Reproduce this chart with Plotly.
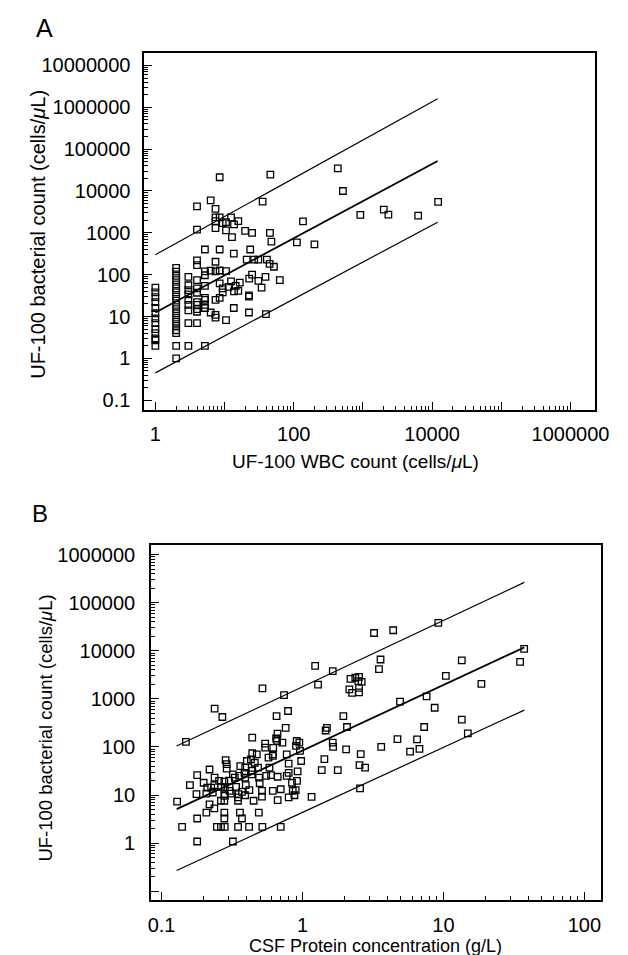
import plotly.graph_objects as go

# Panel A: UF-100 WBC count vs UF-100 bacterial count
wbc_a = [1] * 13 + [2] * 19 + [3] * 9 + [4] * 12 + [5.2] * 9 + [6.3] * 3 + [7.4] * 9 + [8.5] * 6 + [9.4] * 3 + [10.5] * 4 + \
    [11.4, 12.4, 12.4, 12.8, 13.7, 13.7, 13.6, 13.6, 14.5, 15.8, 15.8, 16.6, 19.8, 20.9, 22.5, 22.5, 22.5, 22.7, 23.5,
     25, 25, 26.8, 30.8, 30.8, 34.3, 35.5, 39, 39.6, 40.9, 44.8, 45.3, 45.9, 47.5, 51.7, 62.9,
     111, 136, 199, 433, 513, 916, 2000, 2330, 6280, 12200]
bact_a = [49, 38, 29, 22, 16, 12, 9, 7, 5, 4, 3, 2.7, 2] + \
    [146, 118, 94, 74, 59, 47, 38, 30, 24, 19, 15, 12, 9.4, 7.5, 6, 4.7, 4, 2, 1] + \
    [89, 56, 43, 34, 25, 19, 14, 7, 2] + \
    [4300, 1200, 220, 170, 74, 47, 37, 22, 19, 15, 13, 7] + \
    [400, 120, 97, 54, 28, 25, 19, 16, 2] + \
    [6000, 125, 12.5] + \
    [3730, 2350, 1900, 1290, 204, 120, 25, 11, 9.4] + \
    [21300, 2350, 400, 126, 62, 28] + \
    [1700, 47, 38] + \
    [1800, 1150, 122, 8.2] + \
    [51, 2350, 69, 790, 1600, 40, 320, 16, 54, 1900, 41, 65, 1120, 230, 32, 30, 12.5, 81, 400,
     1000, 100, 230, 230, 71, 49, 5600, 89, 11.4, 230, 182, 1000, 24500, 620, 155, 74,
     590, 1870, 530, 34800, 10000, 2690, 3600, 2740, 2580, 5500]

# regression line + limits, panel A (end points)
line_a_x = [1, 12000]
line_a_mid = [12.5, 52000]
line_a_up = [300, 1600000]
line_a_lo = [0.45, 1800]

# Panel B: CSF protein vs UF-100 bacterial count
prot_b = [3.22, 4.4, 9.2, 3.58, 3.49, 1.23, 1.64, 1.29, 0.52, 0.74,
          2.19, 2.37, 2.52, 2.49, 2.63, 2.15, 2.25, 2.52, 2.52,
          0.238, 0.27, 4.92, 7.6, 8.67, 1.95, 0.655, 0.79, 0.76, 1.49, 1.46, 2.07, 7.3, 0.44,
          0.665, 0.65, 0.72, 0.66, 0.544, 0.544, 0.62, 0.91, 0.95, 0.96, 0.9, 1.64, 1.65,
          2.04, 3.62, 4.72, 6.5, 5.8, 6.76, 2.59, 2.54, 2.78, 1.43, 1.37, 1.78, 2.56, 1.16, 0.149,
          13.5, 10.4, 18.6, 37.4, 35, 13.5, 14.9,
          0.44, 0.474, 0.616, 0.773, 0.285, 0.29, 0.403, 0.431, 0.459, 0.574, 0.616, 0.798, 0.979,
          0.219, 0.29, 0.362, 0.392, 0.44, 0.484, 0.583, 0.388, 0.436, 0.798, 0.924,
          0.179, 0.238, 0.256, 0.321, 0.331, 0.356, 0.392, 0.492, 0.553, 0.598, 0.667, 0.773, 0.843, 0.914,
          0.497, 0.199, 0.211, 0.225, 0.279, 0.301,
          0.159, 0.237, 0.264, 0.281, 0.304, 0.338, 0.396, 0.42, 0.31, 0.231, 0.177, 0.208, 0.279, 0.352,
          0.372, 0.516, 0.616, 0.701, 0.853, 0.895,
          0.392, 0.516, 0.349, 0.281, 0.264, 0.279, 0.349, 0.45, 0.667, 0.798, 0.877, 0.129,
          0.219, 0.237, 0.208, 0.279, 0.36, 0.49, 0.179, 0.279, 0.372,
          0.14, 0.247, 0.264, 0.281, 0.349, 0.418, 0.519, 0.701, 0.179, 0.321]
bact_b = [23500, 26800, 38000, 6600, 4150, 4880, 3780, 1990, 1650, 1200,
          2620, 2750, 2880, 2340, 2250, 1570, 1340, 1700, 1360,
          630, 420, 880, 1130, 655, 440, 440, 560, 250, 250, 220, 260, 260, 156,
          190, 150, 123, 133, 117, 97, 96, 133, 123, 83, 105, 123, 100,
          89, 100, 146, 144, 80, 91, 71, 42, 37, 56, 33, 33, 13.8, 9.2, 128,
          6300, 3020, 2050, 11000, 5900, 370, 192,
          74, 70, 70, 70, 53, 44, 51, 55, 47, 60, 65, 45, 51,
          34, 35.5, 40, 37, 32, 37, 37, 29, 27, 29, 31,
          26, 23, 19.7, 27, 23, 25, 23, 23, 25, 26, 24, 25, 18, 19.7,
          17.6, 18, 14.3, 14.3, 19, 20,
          16, 16, 14.8, 14.3, 12.2, 14.8, 16, 12.6, 10.7, 11.3, 10.4, 10.7, 10.4, 10.4,
          11.6, 12.2, 12.2, 13.2, 12.2, 12.6,
          9.9, 9.3, 8.9, 9.6, 7.6, 7.6, 7.6, 7.6, 7.8, 8.9, 9.9, 7.3,
          6.4, 5.3, 4.3, 4.3, 4.3, 4.3, 3.25, 3.25, 3.25,
          2.17, 2.17, 2.17, 2.17, 2.17, 2.17, 2.17, 2.17, 1.08, 1.08]

line_b_x = [0.128, 37.5]
line_b_mid = [5.1, 11800]
line_b_up = [105, 265000]
line_b_lo = [0.27, 585]

ya_ticks = [0.1, 1, 10, 100, 1000, 10000, 100000, 1000000, 10000000]
ya_text = ["0.1", "1", "10", "100", "1000", "10000", "100000", "1000000", "10000000"]
xa_ticks = [1, 10, 100, 1000, 10000, 100000, 1000000]
xa_text = ["1", "", "100", "", "10000", "", "1000000"]
yb_ticks = [0.1, 1, 10, 100, 1000, 10000, 100000, 1000000]
yb_text = ["", "1", "10", "100", "1000", "10000", "100000", "1000000"]
xb_ticks = [0.1, 1, 10, 100]
xb_text = ["0.1", "1", "10", "100"]

FONT = "Liberation Sans, Arial, Helvetica, sans-serif"


def minors(lo, hi):
    out = []
    for e in range(lo, hi):
        for m in range(2, 10):
            out.append(m * 10 ** e)
    return out


def log_axis(rng, dom, tv, tt, mlo, mhi, anchor, standoff):
    return dict(type="log", range=rng, domain=dom, anchor=anchor,
                tickmode="array", tickvals=tv, ticktext=tt,
                ticks="inside", ticklen=8, tickwidth=1.2, tickcolor="black",
                minor=dict(ticks="inside", ticklen=4, tickwidth=1, tickcolor="black",
                           tickmode="array", tickvals=minors(mlo, mhi), showgrid=False),
                showline=True, mirror=True, linecolor="black", linewidth=1.8,
                showgrid=False, zeroline=False, ticklabelstandoff=standoff,
                tickfont=dict(family=FONT, size=20, color="black"))


def sq(x, y, xa, ya):
    return go.Scatter(x=x, y=y, mode="markers", xaxis=xa, yaxis=ya, showlegend=False,
                      marker=dict(symbol="square-open", size=6.5, color="black",
                                  line=dict(width=1.3, color="black")))


def ln(x, y, xa, ya, w):
    return go.Scatter(x=x, y=y, mode="lines", xaxis=xa, yaxis=ya, showlegend=False,
                      line=dict(color="black", width=w))


fig = go.Figure()
fig.add_trace(ln(line_a_x, line_a_up, "x", "y", 1.2))
fig.add_trace(ln(line_a_x, line_a_mid, "x", "y", 1.8))
fig.add_trace(ln(line_a_x, line_a_lo, "x", "y", 1.2))
fig.add_trace(sq(wbc_a, bact_a, "x", "y"))
fig.add_trace(ln(line_b_x, line_b_up, "x2", "y2", 1.2))
fig.add_trace(ln(line_b_x, line_b_mid, "x2", "y2", 1.8))
fig.add_trace(ln(line_b_x, line_b_lo, "x2", "y2", 1.2))
fig.add_trace(sq(prot_b, bact_b, "x2", "y2"))

W, H = 628, 955
fig.update_layout(
    width=W, height=H, margin=dict(l=0, r=0, t=0, b=0),
    paper_bgcolor="white", plot_bgcolor="white",
    font=dict(family=FONT, color="black"),
    xaxis=log_axis([-0.16, 6.35], [137 / W, 600 / W], xa_ticks, xa_text, 0, 6, "y", 5),
    yaxis=log_axis([-1.23, 7.30], [1 - 401.7 / H, 1 - 44 / H], ya_ticks, ya_text, -1, 7, "x", 8),
    xaxis2=log_axis([-1.074, 2.12], [144 / W, 606.7 / W], xb_ticks, xb_text, -1, 2, "y2", 6),
    yaxis2=log_axis([-1.18, 6.21], [1 - 892.7 / H, 1 - 536.7 / H], yb_ticks, yb_text, -1, 6, "x2", 10),
)

annots = [
    dict(text="A", x=25 / W, y=1 - 19 / H, font=dict(size=25), xanchor="left"),
    dict(text="B", x=21 / W, y=1 - 506 / H, font=dict(size=24), xanchor="left"),
    dict(text="UF-100 WBC count (cells/<i>μ</i>L)", x=354 / W, y=1 - 453 / H, font=dict(size=19)),
    dict(text="CSF Protein concentration (g/L)", x=375 / W, y=1 - 939 / H, font=dict(size=18)),
    dict(text="UF-100 bacterial count (cells/<i>μ</i>L)", x=27 / W, y=1 - 226 / H,
         font=dict(size=20), textangle=-90),
    dict(text="UF-100 bacterial count (cells/<i>μ</i>L)", x=35 / W, y=1 - 721 / H,
         font=dict(size=18.5), textangle=-90),
]
for a in annots:
    a.setdefault("xanchor", "center")
    fig.add_annotation(xref="paper", yref="paper", yanchor="middle", showarrow=False,
                       borderpad=0, **a)
    fig.layout.annotations[-1].font.family = FONT
    fig.layout.annotations[-1].font.color = "black"

fig.write_html("out.html")
